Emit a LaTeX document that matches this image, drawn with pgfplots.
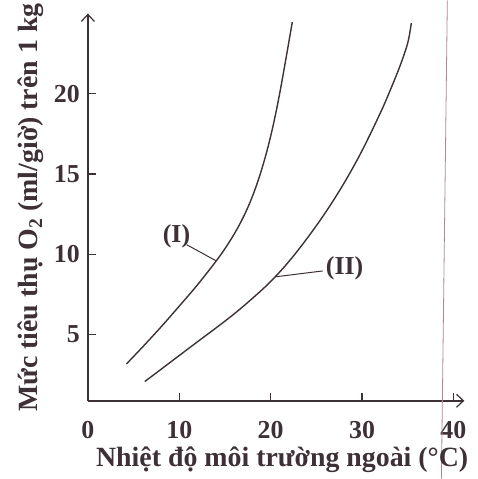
\documentclass[border=0pt]{standalone}
\usepackage{fontspec}
\setmainfont{Liberation Serif}
\usepackage{pgfplots}
\pgfplotsset{compat=1.18}
\usetikzlibrary{arrows.meta}
\definecolor{ink}{RGB}{62,48,55}
\definecolor{edge}{RGB}{175,135,145}
\begin{document}
\fontsize{24}{28}\selectfont\bfseries
\begin{tikzpicture}[color=ink]
\begin{axis}[
  x=9.15bp, y=16.07bp,
  xmin=0, xmax=41.2, ymin=0.87, ymax=25,
  axis lines=left,
  axis line style={ink, line width=1.5bp, -{Straight Barb[length=7bp,width=13bp,line width=1.2bp]}},
  xtick={0,10,20,30,40}, ytick={5,10,15,20},
  tick align=inside, major tick length=8bp,
  tick style={ink, line width=1.3bp},
  /pgf/number format/assume math mode=true,
  ticklabel style={font=\fontsize{26}{30}\selectfont\bfseries, text=ink},
  xticklabel style={yshift=-12bp},
  xlabel={Nhiệt độ môi trường ngoài (°C)},
  ylabel={Mức tiêu thụ O\textsubscript{2} (ml/giờ) trên 1 kg},
  xlabel style={at={(axis description cs:0.516,-0.152)}, anchor=center, inner sep=0pt, font=\fontsize{28}{32}\selectfont\bfseries, text=ink},
  ylabel style={at={(axis description cs:-0.151,0.4985)}, anchor=center, inner sep=0pt, font=\fontsize{28}{32}\selectfont\bfseries, text=ink},
  clip=false,
]
\addplot[ink, line width=1.4bp, smooth, tension=0.6] coordinates {
  (4.23,3.17) (6,4.23) (8,5.47) (10,6.77) (12,8.1) (14,9.55) (15,10.35)
  (16,11.25) (17,12.3) (18,13.6) (19,15.25) (20,17.35) (21,20.05) (22.37,24.47)
};
\addplot[ink, line width=1.4bp, smooth, tension=0.6] coordinates {
  (6.23,2.07) (8,2.83) (10,3.69) (12,4.55) (14,5.40) (16,6.28) (18,7.25)
  (20,8.30) (22,9.55) (24,11.0) (26,12.6) (28,14.4) (30,16.45) (32,18.8)
  (33,20.1) (34,21.5) (34.7,22.6) (35.1,23.4) (35.4,24.41)
};
\node[font=\fontsize{26}{30}\selectfont\bfseries] at (axis cs:9.7,11.1) {(I)};
\draw[line width=1bp] (axis cs:10.8,10.6) -- (axis cs:14.07,9.58);
\node[font=\fontsize{26}{30}\selectfont\bfseries] at (axis cs:28.1,9.15) {(II)};
\draw[line width=1bp] (axis cs:25.7,8.96) -- (axis cs:20.6,8.6);
\draw[edge, line width=0.8bp] (axis cs:39.34,25.82) -- (axis cs:38.69,-3.98);
\path (axis cs:-9.62,-3.98) rectangle (axis cs:42.62,25.82);
\end{axis}
\end{tikzpicture}
\end{document}
